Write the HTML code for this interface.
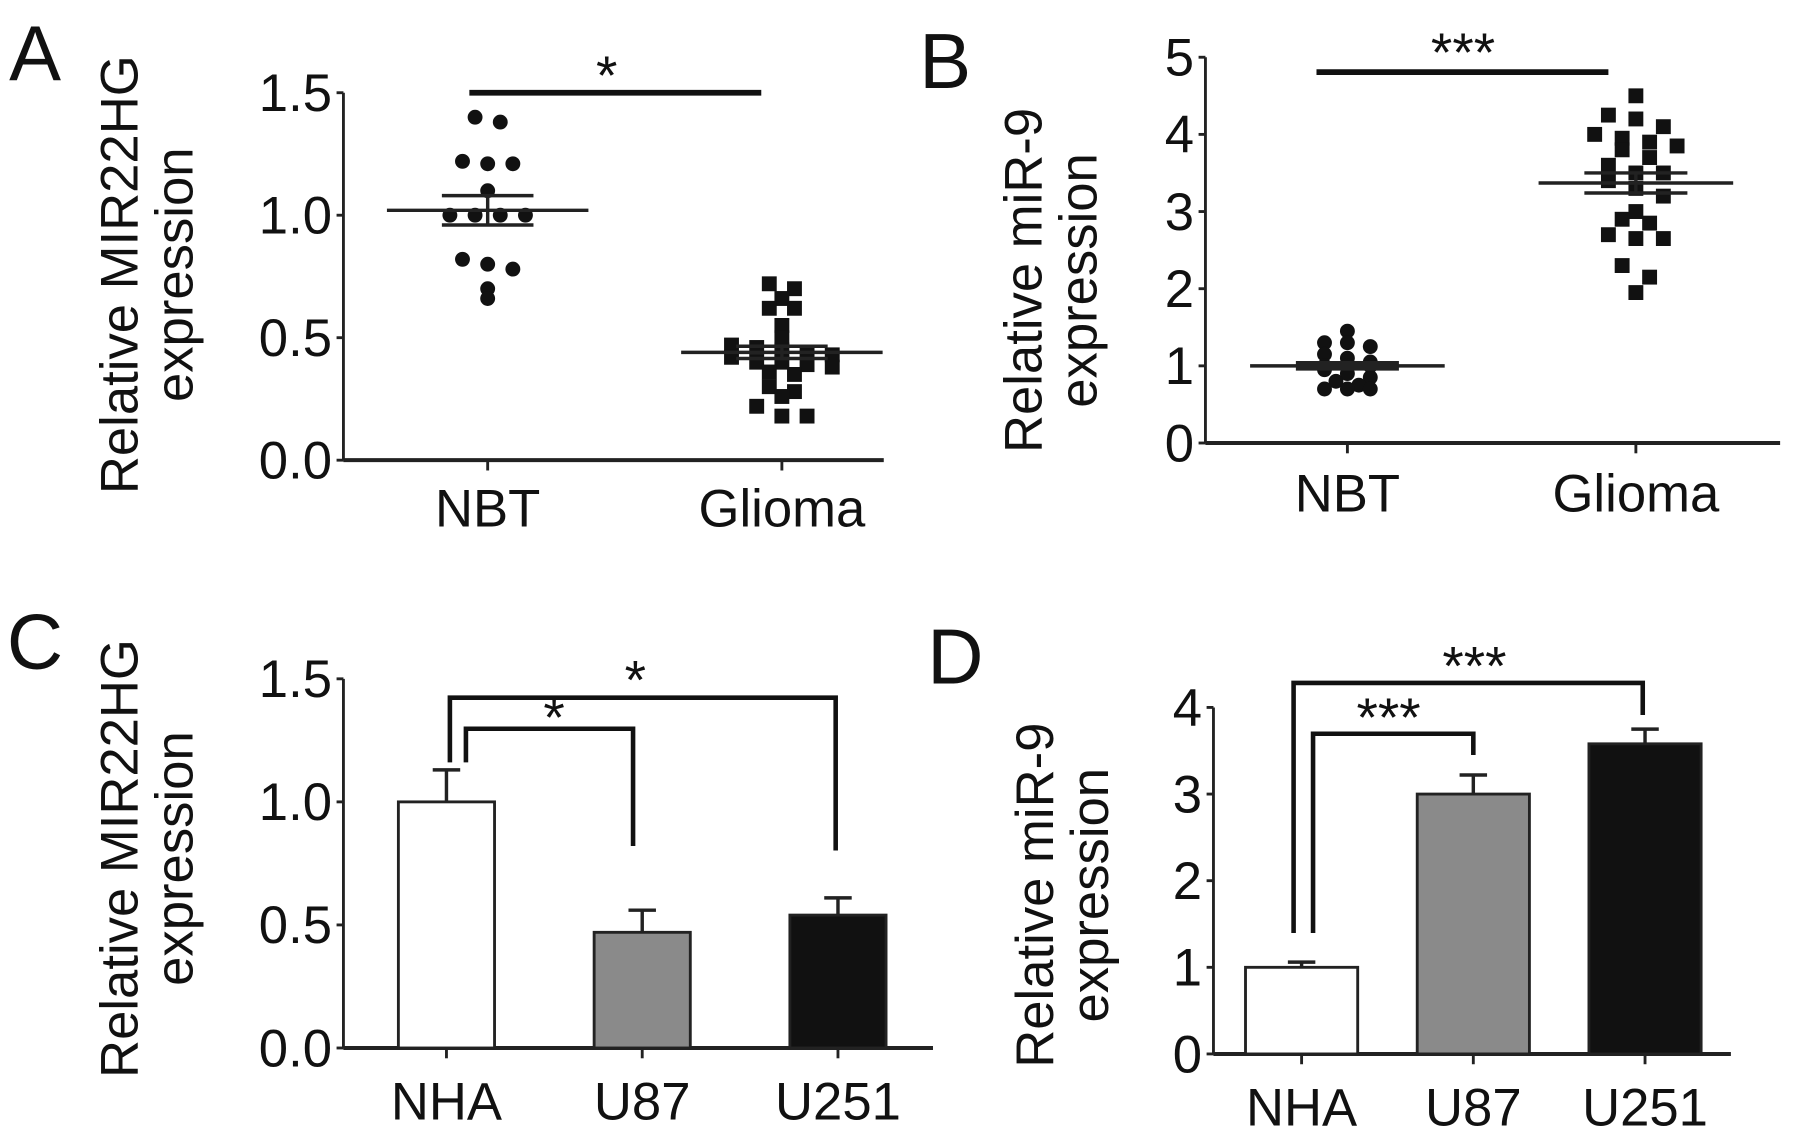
<!DOCTYPE html>
<html><head><meta charset="utf-8"><style>
html,body{margin:0;padding:0;background:#fff}
svg{display:block}
text{font-family:"Liberation Sans",Arial,sans-serif;fill:#111}
</style></head><body>
<svg id="fig" width="1795" height="1139" viewBox="0 0 1568 995" preserveAspectRatio="none" xmlns="http://www.w3.org/2000/svg"></svg>
<script>
// Panel A data
const aCategories = ["NBT", "Glioma"];
const aNBT = [1.40,1.38,1.22,1.21,1.21,1.10,1.00,1.00,1.00,1.00,0.82,0.80,0.78,0.70,0.66];
const aGlioma = [0.72,0.70,0.66,0.62,0.62,0.55,0.50,0.47,0.46,0.45,0.44,0.43,0.42,0.40,0.40,0.39,0.38,0.36,0.35,0.30,0.28,0.26,0.22,0.18,0.18];
const aMean = [1.02, 0.44];
const aSem = [0.06, 0.025];
const aTicks = ["0.0","0.5","1.0","1.5"];
// Panel B data
const bCategories = ["NBT", "Glioma"];
const bNBT = [1.45,1.30,1.30,1.25,1.15,1.10,1.05,1.00,1.00,1.00,0.95,0.90,0.85,0.80,0.75,0.70,0.70,0.70];
const bGlioma = [4.50,4.25,4.20,4.10,4.00,3.95,3.90,3.85,3.80,3.70,3.60,3.50,3.50,3.40,3.30,3.20,3.00,2.90,2.85,2.70,2.65,2.65,2.30,2.15,1.95];
const bMean = [1.00, 3.37];
const bSem = [0.04, 0.13];
const bTicks = ["0","1","2","3","4","5"];
// Panel C data
const cCategories = ["NHA","U87","U251"];
const cValues = [1.00, 0.47, 0.54];
const cErrors = [0.13, 0.09, 0.07];
const cTicks = ["0.0","0.5","1.0","1.5"];
// Panel D data
const dCategories = ["NHA","U87","U251"];
const dValues = [1.00, 3.00, 3.58];
const dErrors = [0.06, 0.22, 0.17];
const dTicks = ["0","1","2","3","4"];
const barFills = ["#ffffff","#8a8a8a","#111111"];

const svg = document.getElementById('fig');
const NS = "http://www.w3.org/2000/svg";
const FS = 46;
function el(tag, attrs, parent){
  const e = document.createElementNS(NS, tag);
  for (const k in attrs) e.setAttribute(k, attrs[k]);
  (parent||svg).appendChild(e);
  return e;
}
function txt(str, x, y, size, anchor, parent, rot){
  const t = el('text', {x:x, y:y, 'font-size':size, 'text-anchor':anchor||'middle'}, parent);
  if (rot) t.setAttribute('transform', 'rotate(-90 '+x+' '+y+')');
  t.textContent = str;
  return t;
}
function axes(g, x0, x1, yScale, ticks, tickVals, cats, catX, labelY, labelLines, labelX1, labelX2, labelCY){
  const y0 = yScale(tickVals[0]), yTop = yScale(tickVals[tickVals.length-1]);
  const ya = el('line',{x1:x0,y1:y0,x2:x0,y2:yTop,stroke:'#222','stroke-width':2.5},g);
   
  const xa = el('line',{x1:x0,y1:y0,x2:x1,y2:y0,stroke:'#222','stroke-width':3.5},g);
   
  tickVals.forEach((v,i)=>{
    el('line',{x1:x0-6,y1:yScale(v),x2:x0,y2:yScale(v),stroke:'#222','stroke-width':2.5},g);
    const t = txt(ticks[i], x0-10, yScale(v)+16, FS, 'end', g);
     
  });
  cats.forEach((c,i)=>{
    el('line',{x1:catX(i),y1:y0,x2:catX(i),y2:y0+9,stroke:'#222','stroke-width':2.5},g);
    const t = txt(c, catX(i), labelY, FS, 'middle', g);
     
  });
  const l1 = txt(labelLines[0], labelX1, labelCY, FS, 'middle', g, true);
   
  const l2 = txt(labelLines[1], labelX2, labelCY, FS, 'middle', g, true);
   
}
function jitter(vals, step){
  const out = []; const groups = {};
  vals.forEach(v=>{ const k = Math.round(v/step); groups[k]=(groups[k]||0)+1; });
  const seen = {};
  vals.forEach(v=>{ const k=Math.round(v/step); const n=groups[k]; const i=(seen[k]=(seen[k]||0)+1)-1; out.push((i-(n-1)/2)); });
  return out;
}
function scatter(g, vals, cx, yScale, shape, step, spacing, name){
  const off = jitter(vals, step);
  vals.forEach((v,i)=>{
    const x = cx + off[i]*spacing, y = yScale(v);
    let m;
    if (shape==='circle') m = el('circle',{cx:x,cy:y,r:6.5,fill:'#111'},g);
    else m = el('rect',{x:x-6.5,y:y-6.5,width:13,height:13,fill:'#111'},g);
    
    
  });
}
function meanSem(g, cx, mean, sem, yScale, halfW, halfE){
  const m = el('line',{x1:cx-halfW,y1:yScale(mean),x2:cx+halfW,y2:yScale(mean),stroke:'#222','stroke-width':3},g);
   
  [mean+sem, mean-sem].forEach(v=>{
    const s = el('line',{x1:cx-halfE,y1:yScale(v),x2:cx+halfE,y2:yScale(v),stroke:'#222','stroke-width':3},g);
     
  });
  el('line',{x1:cx,y1:yScale(mean+sem),x2:cx,y2:yScale(mean-sem),stroke:'#222','stroke-width':3},g);
}

// ---------- Panel A ----------
const gA = el('g',{});  
const aY = v => 402 - v*(402-81)/1.5;
const aX = i => [426,683][i];
txt('A', 8, 70, 68, 'start', gA);
axes(gA, 300, 772, aY, aTicks, [0,0.5,1.0,1.5], aCategories, aX, 460, ['Relative MIR22HG','expression'], 120, 168, 240);
scatter(gA, aNBT, aX(0), aY, 'circle', 0.05, 22, 'nbt-point');
scatter(gA, aGlioma, aX(1), aY, 'square', 0.05, 22, 'glioma-point');
aMean.forEach((m,i)=>meanSem(gA, aX(i), m, aSem[i], aY, 88, 40));
el('line',{x1:410,y1:81,x2:665,y2:81,stroke:'#111','stroke-width':5},gA);
txt('*', 530, 82, 48, 'middle', gA);

// ---------- Panel B ----------
const gB = el('g',{});  
const bY = v => 387 - v*(387-50)/5;
const bX = i => [1177,1429][i];
txt('B', 803, 77, 68, 'start', gB);
axes(gB, 1053, 1555, bY, bTicks, [0,1,2,3,4,5], bCategories, bX, 447, ['Relative miR-9','expression'], 910, 958, 245);
scatter(gB, bNBT, bX(0), bY, 'circle', 0.1, 20, 'nbt-point');
scatter(gB, bGlioma, bX(1), bY, 'square', 0.22, 24, 'glioma-point');
bMean.forEach((m,i)=>meanSem(gB, bX(i), m, bSem[i], bY, 85, 45));
el('line',{x1:1150,y1:63,x2:1405,y2:63,stroke:'#111','stroke-width':5},gB);
txt('***', 1278, 62, 48, 'middle', gB);

// ---------- Panel C ----------
const gC = el('g',{});  
const cY = v => 915.5 - v*(915.5-593)/1.5;
const cX = i => 390 + i*171;
txt('C', 6, 584, 68, 'start', gC);
axes(gC, 300, 815, cY, cTicks, [0,0.5,1.0,1.5], cCategories, cX, 978, ['Relative MIR22HG','expression'], 120, 168, 750);
cValues.forEach((v,i)=>{
  const x=cX(i);
  el('line',{x1:x,y1:cY(v),x2:x,y2:cY(v+cErrors[i]),stroke:'#222','stroke-width':3},gC);
  el('line',{x1:x-12,y1:cY(v+cErrors[i]),x2:x+12,y2:cY(v+cErrors[i]),stroke:'#222','stroke-width':3},gC);
  const b = el('rect',{x:x-42,y:cY(v),width:84,height:cY(0)-cY(v),fill:barFills[i],stroke:'#222','stroke-width':2.5},gC);
  
  
});
el('polyline',{points:'393,666 393,609.5 730,609.5 730,743',fill:'none',stroke:'#111','stroke-width':4},gC);
el('polyline',{points:'407,666 407,636.6 553,636.6 553,739',fill:'none',stroke:'#111','stroke-width':4},gC);
txt('*', 555, 610, 48, 'middle', gC);
txt('*', 484, 643, 48, 'middle', gC);

// ---------- Panel D ----------
const gD = el('g',{});  
const dY = v => 920.7 - v*(920.7-618)/4;
const dX = i => 1137 + i*150;
txt('D', 810, 597, 68, 'start', gD);
axes(gD, 1060, 1512, dY, dTicks, [0,1,2,3,4], dCategories, dX, 983, ['Relative miR-9','expression'], 920, 968, 782);
dValues.forEach((v,i)=>{
  const x=dX(i);
  el('line',{x1:x,y1:dY(v),x2:x,y2:dY(v+dErrors[i]),stroke:'#222','stroke-width':3},gD);
  el('line',{x1:x-12,y1:dY(v+dErrors[i]),x2:x+12,y2:dY(v+dErrors[i]),stroke:'#222','stroke-width':3},gD);
  const b = el('rect',{x:x-49,y:dY(v),width:98,height:dY(0)-dY(v),fill:barFills[i],stroke:'#222','stroke-width':2.5},gD);
  
  
});
el('polyline',{points:'1130,815 1130,596.6 1435,596.6 1435,624.6',fill:'none',stroke:'#111','stroke-width':4},gD);
el('polyline',{points:'1147,815 1147,641 1287,641 1287,659.5',fill:'none',stroke:'#111','stroke-width':4},gD);
txt('***', 1288, 598, 48, 'middle', gD);
txt('***', 1213, 643, 48, 'middle', gD);
</script>
</body></html>
